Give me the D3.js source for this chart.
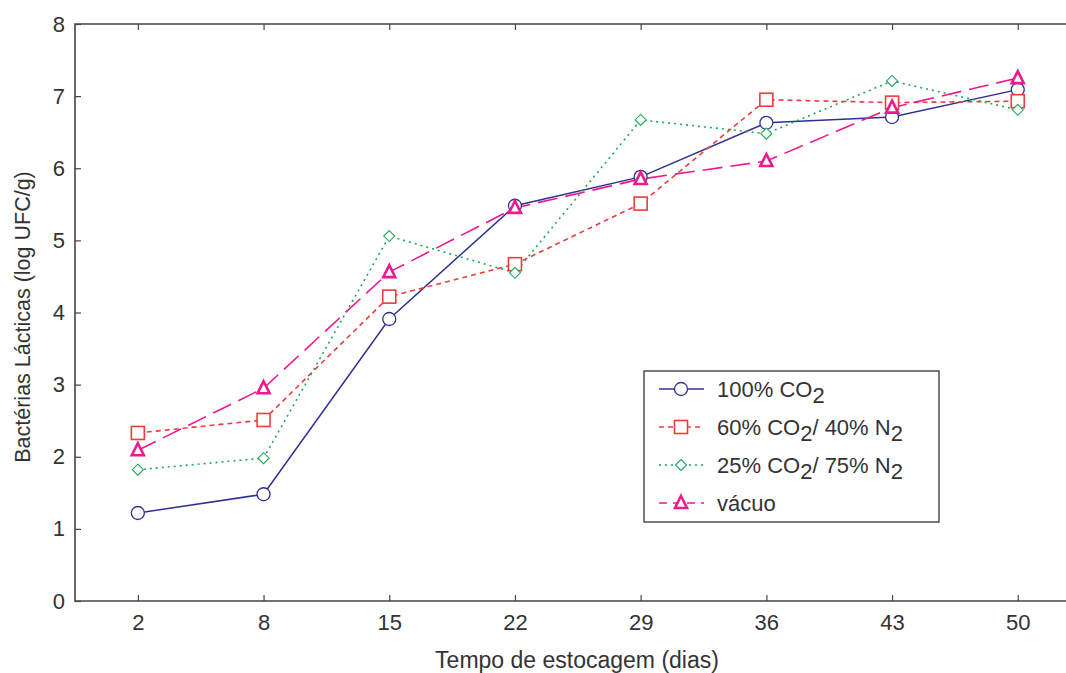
<!DOCTYPE html>
<html>
<head>
<meta charset="utf-8">
<script src="https://cdn.jsdelivr.net/npm/d3@7"></script>
<style>
  body { margin: 0; background: #fff; }
  svg { display: block; font-family: "Liberation Sans", Arial, Helvetica, sans-serif; }
</style>
</head>
<body>
<main></main>
<script>
// categories (storage days)
let dias = ["2", "8", "15", "22", "29", "36", "43", "50"]
let yTicks = [0, 1, 2, 3, 4, 5, 6, 7, 8]

// series values (log UFC/g)
let co2_100 = [1.22, 1.48, 3.91, 5.48, 5.88, 6.63, 6.71, 7.09]
let co2_60 = [2.33, 2.51, 4.22, 4.67, 5.51, 6.95, 6.91, 6.93]
let co2_25 = [1.82, 1.98, 5.06, 4.55, 6.67, 6.48, 7.21, 6.81]
let vacuo = [2.09, 2.95, 4.56, 5.45, 5.85, 6.10, 6.84, 7.25]

let series = [
    { name: [["100% CO", ""], ["2", "sub"]], values: co2_100, color: "#2e3192", dash: null, marker: "circle" },
    { name: [["60% CO", ""], ["2", "sub"], ["/ 40% N", ""], ["2", "sub"]], values: co2_60, color: "#ef3b3b", dash: "5,4", marker: "square" },
    { name: [["25% CO", ""], ["2", "sub"], ["/ 75% N", ""], ["2", "sub"]], values: co2_25, color: "#1ea85a", dash: "2,4", marker: "diamond" },
    { name: [["vácuo", ""]], values: vacuo, color: "#ec1a8c", dash: "20,8", marker: "triangle" }
]

let width = 1066, height = 673
let plotLeft = 75, plotTop = 24, plotBottom = 601
let step = 125.7

let svg = d3.select('main')
    .append('svg')
    .attr('width', width)
    .attr('height', height)

let x = d3.scalePoint()
    .domain(dias)
    .range([plotLeft, plotLeft + step * dias.length])
    .padding(0.5)

let y = d3.scaleLinear()
    .domain([0, 8])
    .range([plotBottom, plotTop])

let axisColor = "#444"
let textColor = "#333"

// frame (right edge lies outside the picture)
svg.append("path")
    .attr("d", `M${x.range()[1]},${plotTop}H${plotLeft}V${plotBottom}H${x.range()[1]}`)
    .attr("fill", "none")
    .attr("stroke", axisColor)
    .attr("stroke-width", 1.6)

// x axis bottom
let xAxis = svg.append("g")
    .attr("transform", `translate(0,${plotBottom})`)
    .call(d3.axisBottom(x).tickSizeInner(-6).tickSizeOuter(0).tickPadding(13))
xAxis.select(".domain").remove()
xAxis.selectAll("line").attr("stroke", axisColor).attr("stroke-width", 1.2)
xAxis.selectAll("text").attr("fill", textColor).style("font-size", "22px").attr("font-family", null)

// x ticks top
let xTop = svg.append("g")
    .attr("transform", `translate(0,${plotTop})`)
    .call(d3.axisTop(x).tickSizeInner(-6).tickSizeOuter(0).tickFormat(""))
xTop.select(".domain").remove()
xTop.selectAll("line").attr("stroke", axisColor).attr("stroke-width", 1.2)

// y axis
let yAxis = svg.append("g")
    .attr("transform", `translate(${plotLeft},0)`)
    .call(d3.axisLeft(y).tickValues(yTicks).tickSizeInner(-6).tickSizeOuter(0).tickPadding(10))
yAxis.select(".domain").remove()
yAxis.selectAll("line").attr("stroke", axisColor).attr("stroke-width", 1.2)
yAxis.selectAll("text").attr("fill", textColor).style("font-size", "22px").attr("font-family", null)

// axis titles
svg.append("text")
    .attr("x", 577)
    .attr("y", 668)
    .attr("text-anchor", "middle")
    .attr("fill", textColor)
    .style("font-size", "23px")
    .text("Tempo de estocagem (dias)")

svg.append("text")
    .attr("transform", "translate(30,317) rotate(-90)")
    .attr("text-anchor", "middle")
    .attr("fill", textColor)
    .style("font-size", "21.5px")
    .text("Bactérias Lácticas (log UFC/g)")

// markers
function drawMarker(g, type, color) {
    if (type == "circle") {
        g.append("circle").attr("r", 6.5)
            .attr("fill", "white").attr("stroke", color).attr("stroke-width", 1.3)
    } else if (type == "square") {
        g.append("rect").attr("x", -6.5).attr("y", -6.5).attr("width", 13).attr("height", 13)
            .attr("fill", "white").attr("stroke", color).attr("stroke-width", 1.6)
    } else if (type == "diamond") {
        g.append("path").attr("d", "M0,-5.5L5.5,0L0,5.5L-5.5,0Z")
            .attr("fill", "white").attr("stroke", color).attr("stroke-width", 1.1)
    } else {
        g.append("path").attr("d", "M0,-7L6,5L-6,5Z")
            .attr("fill", "white").attr("stroke", color).attr("stroke-width", 2.6)
    }
}

let line = d3.line()
    .x(function (d, i) { return x(dias[i]); })
    .y(function (d) { return y(d); })

series.forEach(function (s) {
    svg.append("path")
        .attr("d", line(s.values))
        .attr("fill", "none")
        .attr("stroke", s.color)
        .attr("stroke-width", s.marker == "circle" ? 1.5 : 1.6)
        .attr("stroke-dasharray", s.dash)
})

series.forEach(function (s) {
    s.values.forEach(function (v, i) {
        let g = svg.append("g").attr("transform", `translate(${x(dias[i])},${y(v)})`)
        drawMarker(g, s.marker, s.color)
    })
})

// legend
let legend = svg.append("g").attr("transform", "translate(644,371)")
legend.append("rect")
    .attr("width", 295)
    .attr("height", 151)
    .attr("fill", "white")
    .attr("stroke", axisColor)
    .attr("stroke-width", 1.4)

series.forEach(function (s, i) {
    let ly = 18 + i * 38
    let row = legend.append("g").attr("transform", `translate(0,${ly})`)
    row.append("line")
        .attr("x1", 15).attr("x2", 60)
        .attr("stroke", s.color)
        .attr("stroke-width", 1.5)
        .attr("stroke-dasharray", s.marker == "triangle" ? "8,6" : s.dash)
    let m = row.append("g").attr("transform", "translate(37,0)")
    drawMarker(m, s.marker, s.color)
    let t = row.append("text")
        .attr("x", 73)
        .attr("y", 8)
        .attr("fill", textColor)
        .style("font-size", "22px")
    s.name.forEach(function (part) {
        let sp = t.append("tspan").text(part[0])
        if (part[1] == "sub") {
            sp.attr("dy", 6)
        } else if (t.selectAll("tspan").size() > 1) {
            sp.attr("dy", -6)
        }
    })
})
</script>
</body>
</html>
